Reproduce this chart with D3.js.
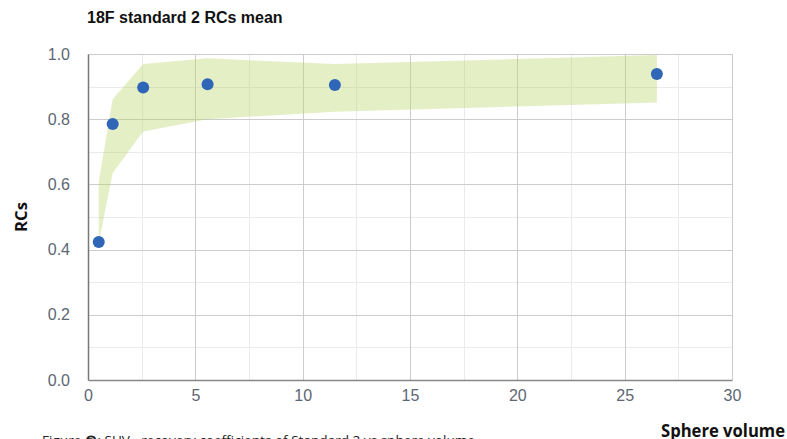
<!DOCTYPE html>
<html>
<head>
<meta charset="utf-8">
<script src="https://cdn.jsdelivr.net/npm/d3@7/dist/d3.min.js"></script>
<style>
  html, body { margin: 0; padding: 0; background: #fff; }
  svg { display: block; }
</style>
</head>
<body>
<svg id="chart" width="787" height="439"></svg>
<script>
// Sphere volumes and mean recovery coefficients
const volumes = [0.5, 1.15, 2.57, 5.57, 11.5, 26.5];
const rcMean  = [0.423, 0.785, 0.897, 0.907, 0.905, 0.939];
// Range band around the mean
const rcLower = [0.42, 0.635, 0.762, 0.800, 0.823, 0.851];
const rcUpper = [0.608, 0.861, 0.969, 0.987, 0.969, 0.997];

const xTicks = [0, 5, 10, 15, 20, 25, 30];
const yTicks = [0.0, 0.2, 0.4, 0.6, 0.8, 1.0];
const xMinor = [2.5, 7.5, 12.5, 17.5, 22.5, 27.5];
const yMinor = [0.1, 0.3, 0.5, 0.7, 0.9];

const svg = d3.select("#chart");
const m = { left: 88, right: 732, top: 54, bottom: 380 };

const x = d3.scaleLinear().domain([0, 30]).range([m.left, m.right]);
const y = d3.scaleLinear().domain([0, 1]).range([m.bottom, m.top]);

// Minor grid
const grid = svg.append("g");
grid.selectAll(".vminor").data(xMinor).join("line")
  .attr("x1", d => Math.round(x(d)) + 0.5).attr("x2", d => Math.round(x(d)) + 0.5)
  .attr("y1", m.top).attr("y2", m.bottom)
  .attr("stroke", "#ebebeb").attr("stroke-width", 1);
grid.selectAll(".hminor").data(yMinor).join("line")
  .attr("x1", m.left).attr("x2", m.right)
  .attr("y1", d => Math.round(y(d)) + 0.5).attr("y2", d => Math.round(y(d)) + 0.5)
  .attr("stroke", "#ebebeb").attr("stroke-width", 1);

// Major grid
grid.selectAll(".vmajor").data(xTicks.slice(1)).join("line")
  .attr("x1", d => Math.round(x(d)) + 0.5).attr("x2", d => Math.round(x(d)) + 0.5)
  .attr("y1", m.top).attr("y2", m.bottom)
  .attr("stroke", "#cccccc").attr("stroke-width", 1);
grid.selectAll(".hmajor").data(yTicks.slice(1)).join("line")
  .attr("x1", m.left).attr("x2", m.right)
  .attr("y1", d => Math.round(y(d)) + 0.5).attr("y2", d => Math.round(y(d)) + 0.5)
  .attr("stroke", "#cccccc").attr("stroke-width", 1);

// Range band
const bandData = volumes.map((v, i) => ({ v, lo: rcLower[i], hi: rcUpper[i] }));
svg.append("path")
  .datum(bandData)
  .attr("d", d3.area().x(d => x(d.v)).y0(d => y(d.lo)).y1(d => y(d.hi)))
  .attr("fill", "#b9d46a").attr("fill-opacity", 0.38);

// Axes
const xAxis = svg.append("g")
  .attr("transform", `translate(0,${m.bottom})`)
  .call(d3.axisBottom(x).tickValues(xTicks).tickSize(0).tickPadding(10).tickFormat(d3.format("d")));
xAxis.select(".domain").attr("stroke", "#888").attr("stroke-width", 1.5);

const yAxis = svg.append("g")
  .attr("transform", `translate(${m.left},0)`)
  .call(d3.axisLeft(y).tickValues(yTicks).tickSize(0).tickPadding(18).tickFormat(d3.format(".1f")));
yAxis.select(".domain").attr("stroke", "#777").attr("stroke-width", 1.5);

svg.selectAll(".tick text")
  .attr("fill", "#5d6673")
  .style("font-family", "Arial, 'Liberation Sans', sans-serif")
  .style("font-size", "16px");

// Mean points
svg.append("g").selectAll("circle")
  .data(volumes.map((v, i) => ({ v, r: rcMean[i] })))
  .join("circle")
  .attr("cx", d => x(d.v)).attr("cy", d => y(d.r))
  .attr("r", 6)
  .attr("fill", "#2f66b7");

// Title and axis titles
svg.append("text")
  .attr("x", 87).attr("y", 23)
  .style("font-family", "Arial, 'Liberation Sans', sans-serif")
  .style("font-size", "16px").style("font-weight", "bold")
  .attr("fill", "#111")
  .text("18F standard 2 RCs mean");

svg.append("text")
  .attr("transform", "translate(27,217) rotate(-90)")
  .attr("text-anchor", "middle")
  .style("font-family", "'Open Sans', 'Noto Sans', sans-serif")
  .style("font-size", "16px").style("font-weight", "bold")
  .attr("fill", "#111")
  .attr("textLength", 30)
  .attr("lengthAdjust", "spacingAndGlyphs")
  .text("RCs");

svg.append("text")
  .attr("x", 785).attr("y", 437)
  .attr("text-anchor", "end")
  .style("font-family", "'Open Sans', 'Noto Sans', sans-serif")
  .style("font-size", "18px").style("font-weight", "bold")
  .attr("fill", "#111")
  .attr("textLength", 124)
  .attr("lengthAdjust", "spacingAndGlyphs")
  .text("Sphere volume");

// Figure caption
svg.append("text")
  .attr("x", 42).attr("y", 445)
  .style("font-family", "'Open Sans', 'Noto Sans', sans-serif")
  .style("font-size", "13px")
  .attr("fill", "#222")
  .attr("textLength", 433)
  .attr("lengthAdjust", "spacingAndGlyphs")
  .text("Figure \u2778: SUV\u2009\u2009\u2009\u2009\u2009recovery coefficients of Standard 2 vs sphere volume");
</script>
</body>
</html>
